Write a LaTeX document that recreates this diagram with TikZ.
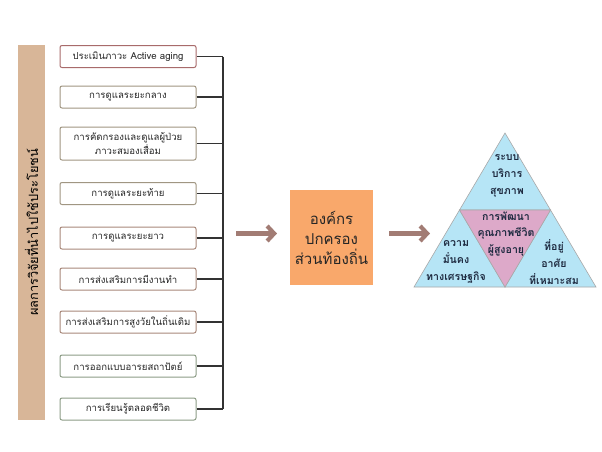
\documentclass[tikz,border=0pt]{standalone}
\usepackage{fontspec}
\newfontfamily\thai[Script=Thai]{Loma}
\usetikzlibrary{arrows.meta}
\definecolor{barcol}{HTML}{D8B698}
\definecolor{orgcol}{HTML}{F9A86B}
\definecolor{arrcol}{HTML}{A27C74}
\definecolor{tblue}{HTML}{B6E5F6}
\definecolor{tpink}{HTML}{DDA9C9}
\definecolor{tedge}{HTML}{A8A8A8}
\definecolor{ttext}{HTML}{1E2A40}
\definecolor{cA}{HTML}{A86B6B}
\definecolor{cB}{HTML}{A09682}
\definecolor{cC}{HTML}{A8887A}
\definecolor{cD}{HTML}{8C9C86}
\begin{document}
\begin{tikzpicture}[x=1pt,y=-1pt,
  item/.style={draw=#1, line width=1pt, rounded corners=2pt, fill=white,
    minimum width=136pt, minimum height=22pt, align=center, inner sep=1pt,
    font=\thai\fontsize{9.6}{11.5}\selectfont, text=black!85},
  conn/.style={draw=black!80, line width=1.1pt},
  bigarrow/.style={draw=arrcol, line width=4.2pt, -{Straight Barb[length=7pt,width=15pt]}},
  tri/.style={draw=tedge, line width=0.6pt},
  tlabel/.style={align=center, text=ttext, font=\thai\bfseries\fontsize{10.6}{17}\selectfont, inner sep=0pt}]
\useasboundingbox (0,0) rectangle (602,451);
\fill[white] (0,0) rectangle (602,451);

% left bar
\node[rotate=90, fill=barcol, minimum width=375pt, minimum height=27pt, inner sep=0pt,
  font=\thai\fontsize{12.8}{14}\selectfont, text=black] (bar) at (31.5,232.5)
  {ผลการวิจัยที่นำไปใช้ประโยชน์};

% boxes
\node[item=cA] (b1) at (128,56.5) {ประเมินภาวะ Active aging};
\node[item=cB] (b2) at (128,97) {การดูแลระยะกลาง};
\node[item=cB, minimum height=33pt] (b3) at (128,143.5) {การคัดกรองและดูแลผู้ป่วย\\ภาวะสมองเสื่อม};
\node[item=cB] (b4) at (128,193.5) {การดูแลระยะท้าย};
\node[item=cC] (b5) at (128,238) {การดูแลระยะยาว};
\node[item=cC] (b6) at (128,279) {การส่งเสริมการมีงานทำ};
\node[item=cC] (b7) at (128,322) {การส่งเสริมการสูงวัยในถิ่นเดิม};
\node[item=cD] (b8) at (128,366) {การออกแบบอารยสถาปัตย์};
\node[item=cD] (b9) at (128,409) {การเรียนรู้ตลอดชีวิต};

% connectors
\coordinate (jt) at (223,56.5);
\coordinate (jb) at (223,409);
\draw[conn] (jt) -- (jb);
\foreach \i in {1,...,9} {\draw[conn] (b\i.east) -- (b\i.east -| jt);}

% orange box
\node[fill=orgcol, minimum width=83pt, minimum height=95pt, align=center, inner sep=0pt,
  font=\thai\fontsize{15}{20}\selectfont, text=black!85] (org) at (331.5,237.5)
  {องค์กร\\ปกครอง\\ส่วนท้องถิ่น};

% arrows
\coordinate (a1s) at (236,233.5);
\coordinate (a1e) at (277,233.5);
\coordinate (a2s) at (389,233.5);
\coordinate (a2e) at (430,233.5);
\draw[bigarrow] (a1s) -- (a1e);
\draw[bigarrow] (a2s) -- (a2e);

% triangle
\coordinate (A) at (505,133);
\coordinate (L) at (414,287);
\coordinate (R) at (596,287);
\coordinate (ML) at (459.5,210);
\coordinate (MR) at (550.5,210);
\coordinate (MB) at (505,287);
\filldraw[tri, fill=tblue] (A) -- (MR) -- (ML) -- cycle;
\filldraw[tri, fill=tblue] (ML) -- (MB) -- (L) -- cycle;
\filldraw[tri, fill=tblue] (MR) -- (R) -- (MB) -- cycle;
\filldraw[tri, fill=tpink] (ML) -- (MR) -- (MB) -- cycle;

\node[tlabel] (ttop) at (507,176) {ระบบ\\บริการ\\สุขภาพ};
\node[tlabel, font=\thai\bfseries\fontsize{10.6}{16.5}\selectfont] (tmid) at (506,234) {การพัฒนา\\คุณภาพชีวิต\\ผู้สูงอายุ};
\node[tlabel] (tleft) at (456,262) {ความ\\มั่นคง\\ทางเศรษฐกิจ};
\node[tlabel] (tright) at (554,262) {ที่อยู่\\อาศัย\\ที่เหมาะสม};
\end{tikzpicture}
\end{document}
